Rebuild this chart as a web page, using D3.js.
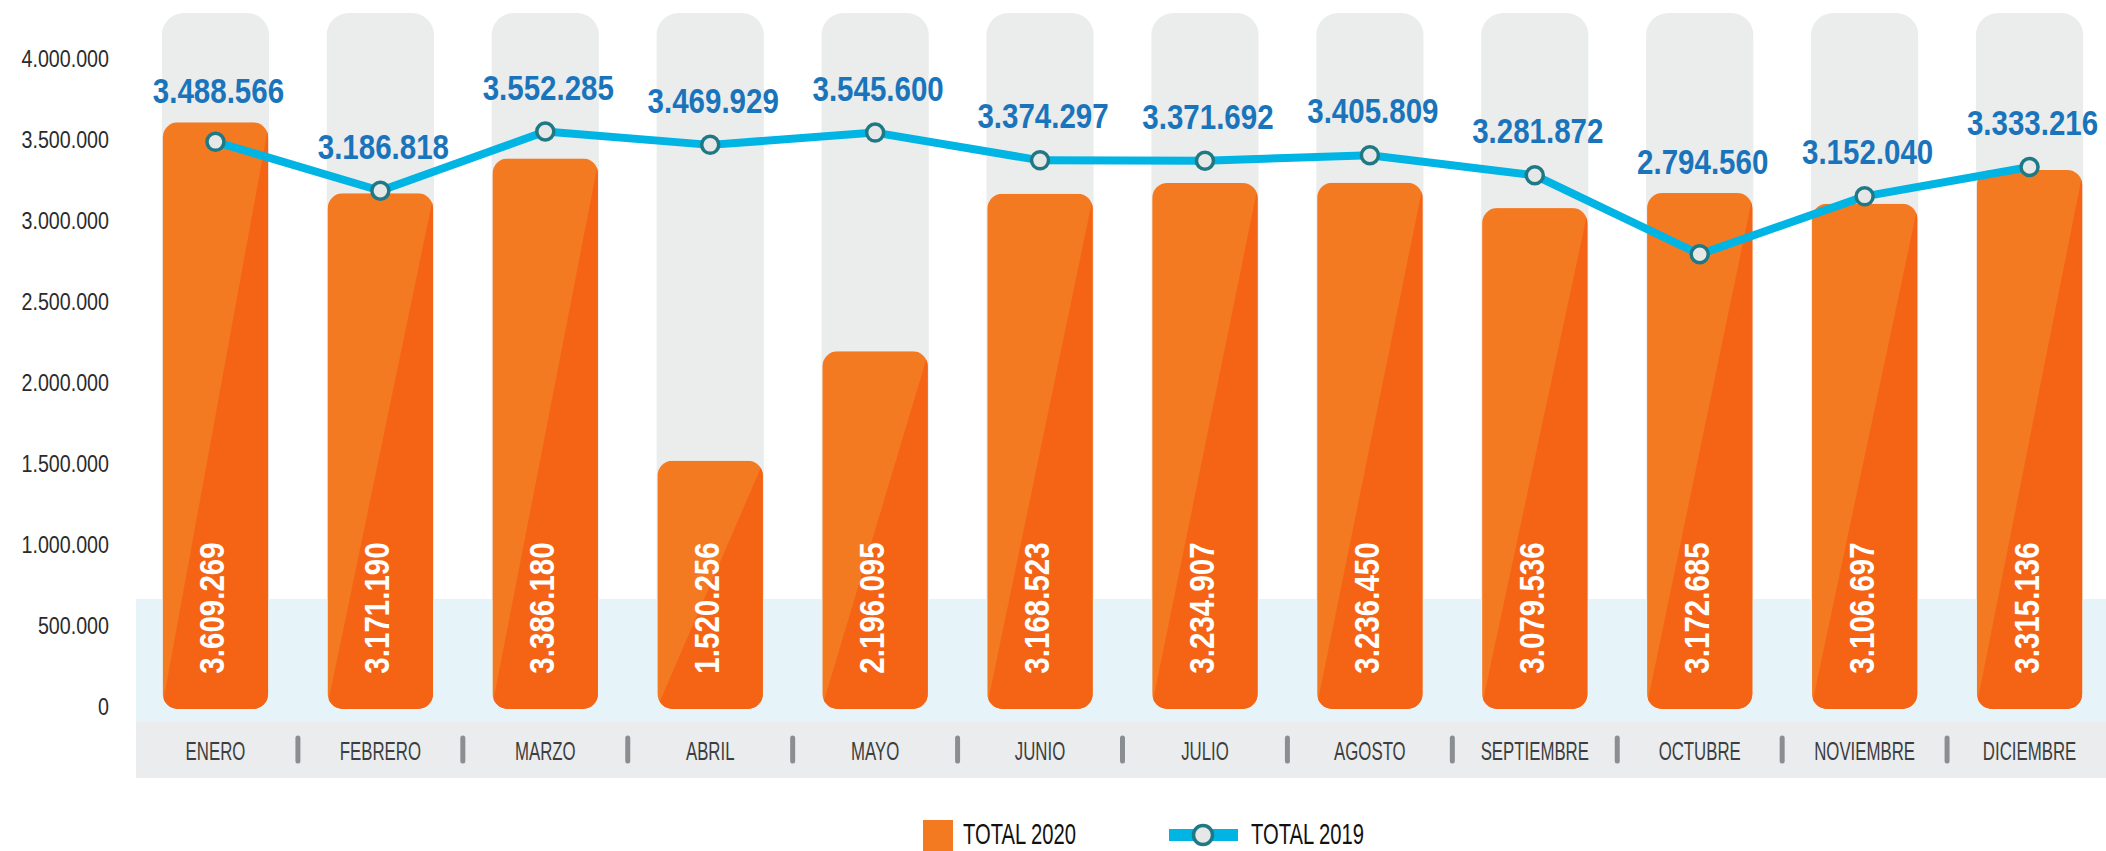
<!DOCTYPE html>
<html>
<head>
<meta charset="utf-8">
<script src="https://cdn.jsdelivr.net/npm/d3@7"></script>
<style>
  body { margin: 0; background: #fff; }
  svg { display: block; }
</style>
</head>
<body>
<script>
// data
const months = ['ENERO', 'FEBRERO', 'MARZO', 'ABRIL', 'MAYO', 'JUNIO', 'JULIO', 'AGOSTO', 'SEPTIEMBRE', 'OCTUBRE', 'NOVIEMBRE', 'DICIEMBRE'];
const total2020 = [3609269, 3171190, 3386180, 1520256, 2196095, 3168523, 3234907, 3236450, 3079536, 3172685, 3106697, 3315136];
const total2019 = [3488566, 3186818, 3552285, 3469929, 3545600, 3374297, 3371692, 3405809, 3281872, 2794560, 3152040, 3333216];
const yTicks = [0, 500000, 1000000, 1500000, 2000000, 2500000, 3000000, 3500000, 4000000];
const seriesNames = ['TOTAL 2020', 'TOTAL 2019'];

const width = 2106;
const height = 851;
// no narrow font installed, so Arial-metric text squeezed horizontally
const font = '"Liberation Sans", Arial, sans-serif';
const squeeze = 0.82;

const orange = '#f47a22';
const orangeDark = '#f56314';
const cyan = '#00b4e4';
const blueText = '#1a74bb';

// spanish style numbers: 3.488.566
const fmt = d3.formatLocale({decimal: ',', thousands: '.', grouping: [3], currency: ['', '']}).format(',d');

const data = months.map((m, i) => ({month: m, v20: total2020[i], v19: total2019[i]}));

// scales
const xScale = d3.scaleBand()
  .domain(months)
  .range([133, 2112])
  .paddingInner(0.35)
  .paddingOuter(0.175);

const yScale = d3.scaleLinear()
  .domain([0, 4000000])
  .range([707, 59]);

const cx = d => xScale(d.month) + xScale.bandwidth() / 2;

const svg = d3.select('body')
  .append('svg')
  .attr('width', width)
  .attr('height', height);

const defs = svg.append('defs');

// grey columns behind each month
svg.append('g')
  .selectAll('rect')
  .data(data)
  .join('rect')
  .attr('x', d => xScale(d.month))
  .attr('y', 13)
  .attr('width', xScale.bandwidth())
  .attr('height', 640)
  .attr('rx', 22)
  .attr('fill', '#ebecec');

// light blue strip and grey axis strip
svg.append('rect')
  .attr('x', 136).attr('y', 599)
  .attr('width', width - 136).attr('height', 123)
  .attr('fill', '#e6f4fa');

svg.append('rect')
  .attr('x', 136).attr('y', 722)
  .attr('width', width - 136).attr('height', 56)
  .attr('fill', '#ebeced');

// orange bars, two tone with a diagonal cut
const barBottom = yScale(0) + 2;
data.forEach(function(d, i) {
  defs.append('clipPath')
    .attr('id', 'bar' + i)
    .append('rect')
    .attr('x', xScale(d.month) + 1)
    .attr('y', yScale(d.v20))
    .attr('width', xScale.bandwidth() - 2)
    .attr('height', barBottom - yScale(d.v20))
    .attr('rx', 15);
});

const bars = svg.append('g')
  .selectAll('g')
  .data(data)
  .join('g')
  .attr('clip-path', (d, i) => `url(#bar${i})`);

bars.append('rect')
  .attr('x', d => xScale(d.month))
  .attr('y', d => yScale(d.v20))
  .attr('width', xScale.bandwidth())
  .attr('height', d => barBottom - yScale(d.v20))
  .attr('fill', orange);

bars.append('path')
  .attr('d', function(d) {
    const x0 = xScale(d.month), x1 = x0 + xScale.bandwidth();
    const top = yScale(d.v20);
    return `M${x1},${top}L${x1},${barBottom}L${x0},${barBottom}Z`;
  })
  .attr('fill', orangeDark);

// values inside the bars
svg.append('g')
  .selectAll('text')
  .data(data)
  .join('text')
  .attr('transform', d => `translate(${cx(d) - 4},${yScale(0) - 99}) rotate(-90) scale(${squeeze},1)`)
  .attr('text-anchor', 'middle')
  .attr('dy', '0.36em')
  .attr('font-family', font)
  .attr('font-weight', 'bold')
  .attr('font-size', 36)
  .attr('fill', '#fff')
  .text(d => fmt(d.v20));

// Y axis
const yAxis = d3.axisLeft(yScale).tickValues(yTicks).tickFormat(fmt).tickSize(0).tickPadding(0);

svg.append('g')
  .attr('transform', 'translate(109,0)')
  .call(yAxis)
  .call(g => g.select('.domain').remove())
  .selectAll('text')
  .attr('transform', `scale(${squeeze},1)`)
  .attr('font-family', font)
  .attr('font-size', 24)
  .attr('fill', '#2b2b2b');

// X axis: month names
const xAxis = d3.axisBottom(xScale).tickSize(0);

svg.append('g')
  .attr('transform', 'translate(0,760)')
  .call(xAxis)
  .call(g => g.select('.domain').remove())
  .selectAll('text')
  .attr('y', 0)
  .attr('dy', null)
  .attr('transform', `scale(${squeeze * 0.82},1)`)
  .attr('font-family', font)
  .attr('font-size', 25)
  .attr('fill', '#3c3e40');

// separators between months
svg.append('g')
  .selectAll('line')
  .data(months.slice(1))
  .join('line')
  .attr('x1', d => xScale(d) - xScale.step() * xScale.paddingInner() / 2)
  .attr('x2', d => xScale(d) - xScale.step() * xScale.paddingInner() / 2)
  .attr('y1', 738)
  .attr('y2', 761)
  .attr('stroke', '#8b8e91')
  .attr('stroke-width', 5)
  .attr('stroke-linecap', 'round');

// 2019 line
const line = d3.line()
  .x(d => cx(d))
  .y(d => yScale(d.v19));

svg.append('path')
  .datum(data)
  .attr('d', line)
  .attr('fill', 'none')
  .attr('stroke', cyan)
  .attr('stroke-width', 8)
  .attr('stroke-linejoin', 'round');

svg.append('g')
  .selectAll('circle')
  .data(data)
  .join('circle')
  .attr('cx', d => cx(d))
  .attr('cy', d => yScale(d.v19))
  .attr('r', 8.5)
  .attr('fill', '#e6e7e7')
  .attr('stroke', '#1f7985')
  .attr('stroke-width', 3.5);

// 2019 labels, kept above both the point and the bar
svg.append('g')
  .selectAll('text')
  .data(data)
  .join('text')
  .attr('transform', d => `translate(${cx(d) + 3},${Math.min(yScale(d.v19) - 32, yScale(d.v20) - 19)}) scale(${squeeze},1)`)
  .attr('text-anchor', 'middle')
  .attr('font-family', font)
  .attr('font-weight', 'bold')
  .attr('font-size', 36)
  .attr('fill', blueText)
  .text(d => fmt(d.v19));

// legend
const legend = svg.append('g');

legend.append('rect')
  .attr('x', 923).attr('y', 820)
  .attr('width', 30).attr('height', 40)
  .attr('fill', orange);

legend.append('line')
  .attr('x1', 1169).attr('x2', 1238)
  .attr('y1', 835).attr('y2', 835)
  .attr('stroke', cyan)
  .attr('stroke-width', 12);

legend.append('circle')
  .attr('cx', 1203).attr('cy', 835)
  .attr('r', 9.5)
  .attr('fill', '#e6e7e7')
  .attr('stroke', '#1f7985')
  .attr('stroke-width', 3.5);

legend.selectAll('text')
  .data(seriesNames)
  .join('text')
  .attr('transform', (d, i) => `translate(${i === 0 ? 963 : 1251},844) scale(${squeeze * 0.85},1)`)
  .attr('font-family', font)
  .attr('font-size', 29)
  .attr('fill', '#111')
  .text(d => d);
</script>
</body>
</html>
